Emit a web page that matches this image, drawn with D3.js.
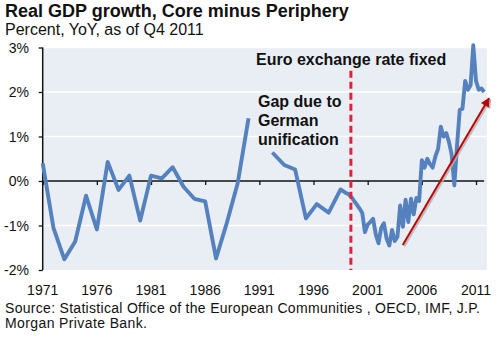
<!DOCTYPE html>
<html><head><meta charset="utf-8">
<script src="https://cdn.jsdelivr.net/npm/d3@7"></script>
<style>
body{margin:0;background:#fff;}
text{font-family:"Liberation Sans",Arial,sans-serif;fill:#111;}
</style></head>
<body><svg id="c" width="500" height="338"></svg>
<script>
// ---- data ----
const yearsA = [1971,1972,1973,1974,1975,1976,1977,1978,1979,1980,1981,1982,1983,1984,1985,1986,1987,1988,1989,1990];
const valuesA = [0.40,-1.06,-1.76,-1.36,-0.33,-1.09,0.43,-0.20,0.12,-0.89,0.12,0.06,0.31,-0.13,-0.40,-0.46,-1.74,-0.94,-0.05,1.41];
const yearsB = [1992.2,1993.3,1994.3,1995.3,1996.3,1997.4,1998.5];
const valuesB = [0.64,0.36,0.26,-0.84,-0.52,-0.71,-0.19];
const quarterDates = [1999.00,1999.25,1999.50,1999.75,2000.00,2000.25,2000.50,2000.75,
  2001.00,2001.25,2001.50,2001.75,2002.00,2002.25,2002.50,2002.75,
  2003.00,2003.25,2003.50,2003.75,2004.00,2004.25,2004.50,2004.75,
  2005.00,2005.25,2005.50,2005.75,2006.00,2006.25,2006.50,2006.75,
  2007.00,2007.25,2007.50,2007.75,2008.00,2008.25,2008.50,2008.75,
  2009.00,2009.25,2009.50,2009.75,2010.00,2010.25,2010.50,2010.75,
  2011.00,2011.25,2011.50,2011.75];
const quarterValues = [-0.27,-0.30,-0.36,-0.45,-0.53,-0.62,-0.72,-1.15,
  -0.98,-0.92,-0.85,-1.20,-1.40,-1.05,-0.95,-1.30,
  -1.45,-1.10,-1.35,-1.25,-0.55,-1.03,-0.42,-0.92,
  -0.40,-0.75,-0.38,-0.45,0.47,0.30,0.50,0.38,
  0.30,0.55,0.72,1.22,1.00,1.08,0.88,0.60,
  -0.10,0.80,1.60,1.62,2.25,2.05,2.15,3.05,
  2.25,2.05,2.08,2.00];
const xTickYears = [1971,1976,1981,1986,1991,1996,2001,2006,2011];
const yTicks = [-2,-1,0,1,2,3];
const euroFixedYear = 1999.45;
const trendArrow = [{t:2004.24,v:-1.44},{t:2012.2,v:1.86}];
const title = "Real GDP growth, Core minus Periphery";
const subtitle = "Percent, YoY, as of Q4 2011";
const sourceLines = ["Source: Statistical Office of the European Communities , OECD, IMF, J.P.","Morgan Private Bank."];

// ---- chart ----
const svg = d3.select("#c");
const x = d3.scaleLinear().domain([1971,2011]).range([42.7,476]);
const y = d3.scaleLinear().domain([-2,3]).range([270,47.5]);

svg.append("rect").attr("x",x(1971)).attr("y",y(3)).attr("width",x(2012)-x(1971)).attr("height",y(-2)-y(3)).attr("fill","#e9eef5");

// gridlines
svg.append("g").selectAll("line").data(yTicks.filter(d=>d!==0&&d!==-2)).join("line")
  .attr("x1",x(1971)).attr("x2",x(2012)).attr("y1",d=>y(d)).attr("y2",d=>y(d))
  .attr("stroke","#fff").attr("stroke-width",1.5);

// zero axis with ticks down
const xAxis = d3.axisBottom(x).tickValues(xTickYears).tickSize(4).tickFormat("");
const gx = svg.append("g").attr("transform",`translate(0,${y(0)})`).call(xAxis);
gx.select(".domain").remove();
gx.selectAll(".tick line").attr("stroke","#111").attr("stroke-width",1.3);
svg.append("line").attr("x1",x(1971)).attr("x2",x(2011.75)).attr("y1",y(0)).attr("y2",y(0)).attr("stroke","#111").attr("stroke-width",1.5);

// x labels
svg.append("g").selectAll("text").data(xTickYears).join("text")
  .attr("x",d=>x(d)).attr("y",295).attr("text-anchor","middle").style("font-size","14px").text(d=>d);

// left axis
const yAxis = d3.axisLeft(y).tickValues(yTicks).tickSize(4).tickFormat("");
const gy = svg.append("g").attr("transform",`translate(${x(1971)},0)`).call(yAxis);
gy.select(".domain").attr("stroke","#111").attr("stroke-width",1.5).attr("d",`M0,${y(3)}V${y(-2)}`);
gy.selectAll(".tick line").attr("stroke","#111").attr("stroke-width",1.3);
svg.append("g").selectAll("text").data(yTicks).join("text")
  .attr("x",29).attr("y",d=>y(d)).attr("dy","0.36em").attr("text-anchor","end").style("font-size","14px")
  .text(d=>d+"%");

// series
const pts = [];
yearsA.forEach((t,i)=>pts.push({t,v:valuesA[i]}));
pts.push({t:1991,v:null});
yearsB.forEach((t,i)=>pts.push({t,v:valuesB[i]}));
quarterDates.forEach((t,i)=>pts.push({t,v:quarterValues[i]}));
const line = d3.line().defined(d=>d.v!==null).x(d=>x(d.t)).y(d=>y(d.v));
svg.append("path").datum(pts).attr("d",line).attr("fill","none")
  .attr("stroke","#5581be").attr("stroke-width",3.9).attr("stroke-linejoin","round");

// euro fixed dashed line
svg.append("line").attr("x1",x(euroFixedYear)).attr("x2",x(euroFixedYear))
  .attr("y1",y(2.48)).attr("y2",y(-2)).attr("stroke","#e3223a").attr("stroke-width",3)
  .attr("stroke-dasharray","7,4");

// annotations
svg.append("text").attr("x",256).attr("y",65).style("font-size","16px").style("font-weight","bold").text("Euro exchange rate fixed");
const gap = svg.append("text").attr("x",258).attr("y",107.3).style("font-size","16px").style("font-weight","bold");
["Gap due to","German","unification"].forEach((s,i)=>gap.append("tspan").attr("x",258).attr("dy",i?19:0).text(s));

// arrow
const defs = svg.append("defs");
defs.append("marker").attr("id","ah").attr("viewBox","0 0 10 10").attr("refX",9).attr("refY",5)
  .attr("markerWidth",5).attr("markerHeight",4.5).attr("orient","auto").attr("markerUnits","strokeWidth")
  .append("path").attr("d","M0,0L10,5L0,10Z").attr("fill","#c00000");
defs.append("marker").attr("id","ahs").attr("viewBox","0 0 10 10").attr("refX",9).attr("refY",5)
  .attr("markerWidth",5).attr("markerHeight",4.5).attr("orient","auto").attr("markerUnits","strokeWidth")
  .append("path").attr("d","M0,0L10,5L0,10Z").attr("fill","#b0b0b0");
svg.append("line").attr("x1",x(trendArrow[0].t)+1.5).attr("y1",y(trendArrow[0].v)+1.5)
  .attr("x2",x(trendArrow[1].t)+1.5).attr("y2",y(trendArrow[1].v)+1.5)
  .attr("stroke","#b0b0b0").attr("stroke-opacity",0.8).attr("stroke-width",2).attr("marker-end","url(#ahs)");
svg.append("line").attr("x1",x(trendArrow[0].t)).attr("y1",y(trendArrow[0].v))
  .attr("x2",x(trendArrow[1].t)).attr("y2",y(trendArrow[1].v))
  .attr("stroke","#c00000").attr("stroke-width",2).attr("marker-end","url(#ah)");

// titles
svg.append("text").attr("x",5).attr("y",16.7).style("font-size","18px").style("font-weight","bold").text(title);
svg.append("text").attr("x",5).attr("y",35).style("font-size","16px").text(subtitle);
svg.append("text").attr("x",5).attr("y",313).style("font-size","14px").attr("textLength",475).attr("lengthAdjust","spacing").text(sourceLines[0]);
svg.append("text").attr("x",5).attr("y",328).style("font-size","14px").attr("textLength",142).attr("lengthAdjust","spacing").text(sourceLines[1]);
</script></body></html>
